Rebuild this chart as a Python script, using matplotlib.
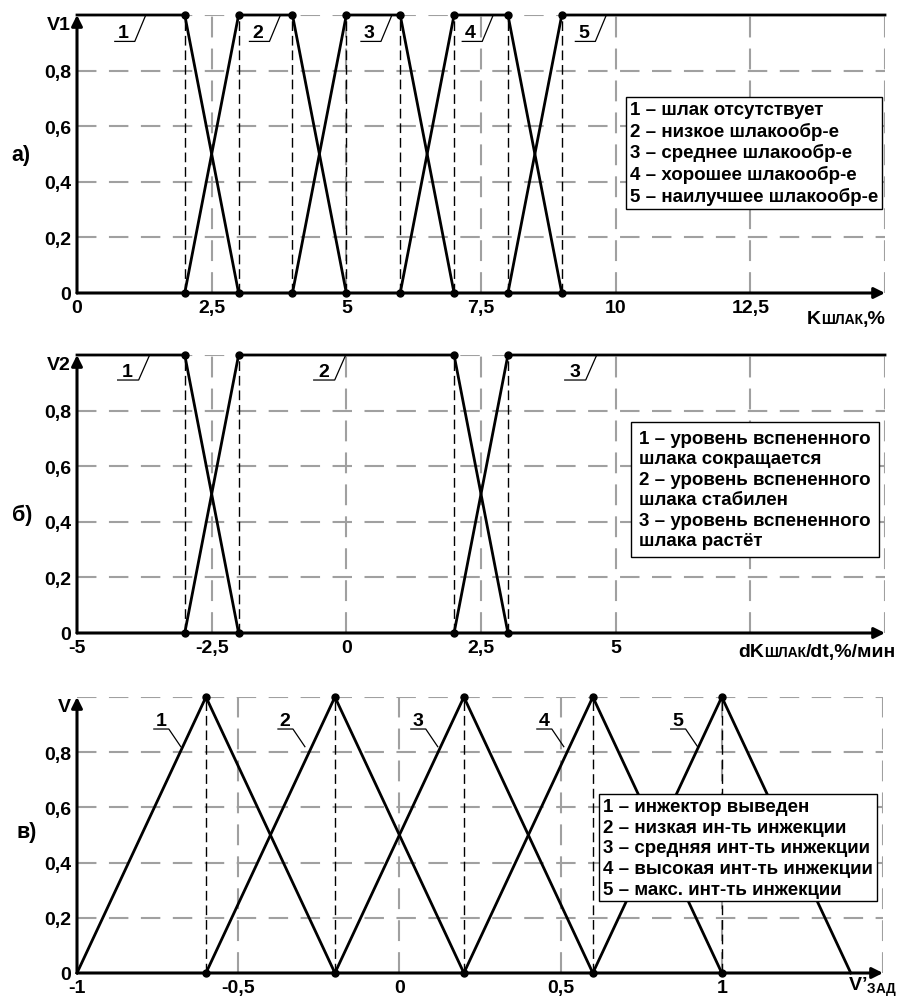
import matplotlib
matplotlib.use('Agg')
import matplotlib.pyplot as plt
from matplotlib.offsetbox import TextArea, HPacker, AnnotationBbox

plt.rcParams['font.family'] = ['Liberation Sans', 'DejaVu Sans']
plt.rcParams['font.weight'] = 'bold'
plt.rcParams['lines.scale_dashes'] = False
plt.rcParams['mathtext.fontset'] = 'custom'
plt.rcParams['mathtext.rm'] = 'Liberation Sans:bold'
plt.rcParams['mathtext.bf'] = 'Liberation Sans:bold'

# --- data -------------------------------------------------------------
y_ticks = [0, 0.2, 0.4, 0.6, 0.8]
y_tick_labels = ['0', '0,2', '0,4', '0,6', '0,8']

# a) slag coefficient
a_mf_x = [[0, 2, 3], [2, 3, 4, 5], [4, 5, 6, 7], [6, 7, 8, 9], [8, 9, 15]]
a_mf_y = [[1, 1, 0], [0, 1, 1, 0], [0, 1, 1, 0], [0, 1, 1, 0], [0, 1, 1]]
a_xlim = (0, 15)
a_xticks = [0, 2.5, 5, 7.5, 10, 12.5]
a_xtick_labels = ['0', '2,5', '5', '7,5', '10', '12,5']
a_grid_x = [2.5, 5, 7.5, 10, 12.5, 15]
a_label_x = [0.85, 3.35, 5.42, 7.3, 9.4]
a_legend = ['1 – шлак отсутствует', '2 – низкое шлакообр-е',
            '3 – среднее шлакообр-е', '4 – хорошее шлакообр-е',
            '5 – наилучшее шлакообр-е']

# b) rate of change
b_mf_x = [[-5, -3, -2], [-3, -2, 2, 3], [2, 3, 10]]
b_mf_y = [[1, 1, 0], [0, 1, 1, 0], [0, 1, 1]]
b_xlim = (-5, 10)
b_xticks = [-5, -2.5, 0, 2.5, 5]
b_xtick_labels = ['-5', '-2,5', '0', '2,5', '5']
b_grid_x = [-2.5, 0, 2.5, 5, 7.5, 10]
b_label_x = [-4.06, -0.42, 4.24]
b_legend = ['1 – уровень вспененного', 'шлака сокращается',
            '2 – уровень вспененного', 'шлака стабилен',
            '3 – уровень вспененного', 'шлака растёт']

# c) injection intensity
c_mf_x = [[-1, -0.6, -0.2], [-0.6, -0.2, 0.2], [-0.2, 0.2, 0.6],
          [0.2, 0.6, 1.0], [0.6, 1.0, 1.4]]
c_mf_y = [[0, 1, 0]] * 5
c_xlim = (-1, 1.5)
c_xticks = [-1, -0.5, 0, 0.5, 1]
c_xtick_labels = ['-1', '-0,5', '0', '0,5', '1']
c_grid_x = [-0.5, 0, 0.5, 1, 1.5]
c_label_x = [-0.74, -0.355, 0.057, 0.448, 0.863]
c_legend = ['1 – инжектор выведен', '2 – низкая ин-ть инжекции',
            '3 – средняя инт-ть инжекции', '4 – высокая инт-ть инжекции',
            '5 – макс. инт-ть инжекции']

W, H = 899, 1003
FS = 14
LFS = 13.5
grid_color = '#a0a0a0'

fig = plt.figure(figsize=(W / 100, H / 100), dpi=100)


def px_axes(x0, x1, y0, y1):
    # x0/x1: pixel of xlim ends, y0/y1: pixel rows of y=0 and y=1
    return fig.add_axes([x0 / W, 1 - y0 / H, (x1 - x0) / W, (y0 - y1) / H])


def draw_panel(ax, mf_x, mf_y, xlim, xticks, xlabels, grid_x, top_label,
               label_x, leader):
    ax.set_xlim(xlim)
    ax.set_ylim(0, 1)
    for s in ax.spines.values():
        s.set_visible(False)
    ax.set_xticks(xticks, xlabels)
    ax.set_yticks(y_ticks, y_tick_labels)
    ax.tick_params(length=0, labelsize=FS)
    ax.tick_params(axis='x', pad=4)
    ax.tick_params(axis='y', pad=4)
    ax.text(-0.008, 0.965, top_label, transform=ax.transAxes, ha='right',
            va='center', fontsize=FS)

    # gray grid
    for gx in grid_x:
        ax.plot([gx, gx], [0, 1], color=grid_color, lw=1.5,
                ls=(0, (15, 8)), zorder=1)
    for gy in y_ticks[1:] + [1.0]:
        ax.plot(xlim, [gy, gy], color=grid_color, lw=1.5,
                ls=(0, (14, 9)), zorder=1)

    # break points: where membership reaches 1 inside the axis range
    breaks = sorted({x for xs, ys in zip(mf_x, mf_y) for x, y in zip(xs, ys)
                     if y == 1 and xlim[0] < x < xlim[1]})
    for bx in breaks:
        ax.plot([bx, bx], [0, 1], color='black', lw=1.0, ls=(0, (7, 3.5)),
                zorder=2)
        ax.plot([bx, bx], [0, 1], 'o', color='black', ms=5, zorder=5,
                clip_on=False)

    for xs, ys in zip(mf_x, mf_y):
        ax.plot(xs, ys, color='black', lw=2.0, zorder=4, clip_on=False,
                solid_joinstyle='miter')

    # axes with arrows
    arrow = dict(arrowstyle='-|>', color='black', lw=2.2, mutation_scale=16,
                 shrinkA=0, shrinkB=0)
    ax.annotate('', xy=(xlim[1], 0), xytext=(xlim[0], 0), arrowprops=arrow,
                annotation_clip=False, zorder=6)
    ax.annotate('', xy=(xlim[0], 1.0), xytext=(xlim[0], 0), arrowprops=arrow,
                annotation_clip=False, zorder=6)

    # numbered leaders
    k = (xlim[1] - xlim[0]) / 808
    u_y, left, right, end_dx, end_y = leader
    for i, lx in enumerate(label_x):
        ax.plot([lx - left * k, lx + right * k, lx + end_dx * k],
                [u_y, u_y, end_y], color='black', lw=0.9, zorder=3)
        ax.text(lx, u_y + 4 / 277, str(i + 1), ha='center', va='baseline',
                fontsize=FS, zorder=3)


ax_a = px_axes(77, 885, 294, 16)
draw_panel(ax_a, a_mf_x, a_mf_y, a_xlim, a_xticks, a_xtick_labels, a_grid_x,
           'V1', a_label_x, (0.905, 8, 12, 23, 1.0))
ax_b = px_axes(77, 885, 634, 356)
draw_panel(ax_b, b_mf_x, b_mf_y, b_xlim, b_xticks, b_xtick_labels, b_grid_x,
           'V2', b_label_x, (0.91, 10, 11, 22, 1.0))
ax_c = px_axes(77, 883, 974, 698)
draw_panel(ax_c, c_mf_x, c_mf_y, c_xlim, c_xticks, c_xtick_labels, c_grid_x,
           'V', c_label_x, (0.884, 7, 8, 20, 0.82))

# legends
box = dict(boxstyle='square,pad=0.2', fc='white', ec='black', lw=1.0)
fig.text(630 / W, 1 - 102 / H, '\n'.join(a_legend), ha='left', va='top',
         fontsize=LFS, linespacing=1.26, bbox=box, zorder=10)
box_b = dict(boxstyle='square,pad=0.42', fc='white', ec='black', lw=1.0)
fig.text(639 / W, 1 - 431 / H, '\n'.join(b_legend), ha='left', va='top',
         fontsize=LFS, linespacing=1.26, bbox=box_b, zorder=10)
fig.text(603 / W, 1 - 799 / H, '\n'.join(c_legend), ha='left', va='top',
         fontsize=LFS, linespacing=1.28, bbox=box, zorder=10)

# panel letters
fig.text(11 / W, 1 - 155 / H, 'а)', ha='left', va='center', fontsize=15.5)
fig.text(12 / W, 1 - 515 / H, 'б)', ha='left', va='center', fontsize=15.5)
fig.text(16 / W, 1 - 833 / H, 'в)', ha='left', va='center', fontsize=15.5)


# axis titles with small-caps part on the same baseline
def axis_title(parts, xy):
    areas = [TextArea(t, textprops=dict(fontsize=s, fontweight='bold'))
             for t, s in parts]
    pack = HPacker(children=areas, align='baseline', pad=0, sep=0)
    fig.add_artist(AnnotationBbox(pack, xy, xycoords='figure pixels',
                                  box_alignment=(1, 0), frameon=False,
                                  pad=0))


axis_title([('K', FS), ('ШЛАК', 10), (',%', FS)], (886, H - 328))
axis_title([('dK', FS), ('ШЛАК', 10), ('/dt,%/мин', FS)], (896, H - 661))
fig.text(848 / W, 1 - 991 / H, 'V’$_{\\mathbf{ЗАД}}$', ha='left',
         va='baseline', fontsize=FS)

fig.savefig('out.png', dpi=100)
